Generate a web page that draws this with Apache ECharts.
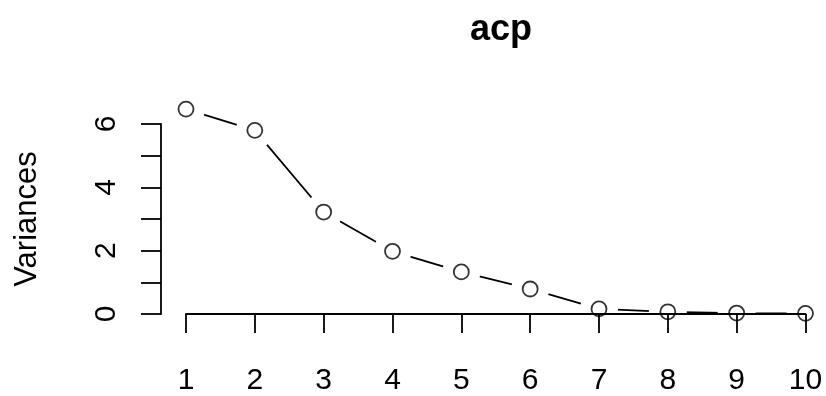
<!DOCTYPE html>
<html>
<head>
<meta charset="utf-8">
<script src="https://cdn.jsdelivr.net/npm/echarts@6/dist/echarts.min.js"></script>
<style>html,body{margin:0;padding:0;background:#fff;}#chart{width:826px;height:396px;}</style>
</head>
<body>
<div id="chart"></div>
<script>
const components = [1, 2, 3, 4, 5, 6, 7, 8, 9, 10];
const variances = [6.47, 5.80, 3.22, 1.98, 1.33, 0.79, 0.16, 0.07, 0.03, 0.02];
const yTickLabels = [0, 2, 4, 6];
const chartTitle = 'acp';
const yName = 'Variances';

const pts = components.map((c, i) => [c, variances[i]]);
const FONT = '"Liberation Sans", Arial, sans-serif';
const chart = echarts.init(document.getElementById('chart'));
chart.setOption({
  animation: false,
  backgroundColor: '#fff',
  title: {
    text: chartTitle,
    left: 496, top: 7, textAlign: 'center',
    textStyle: { fontFamily: FONT, fontSize: 36, fontWeight: 'bold', color: '#000' }
  },
  grid: { left: 186, right: 20.5, top: 124, bottom: 81 },
  xAxis: {
    type: 'value', min: 1, max: 10, interval: 1, offset: 8, z: 3,
    axisLine: { show: true, lineStyle: { color: '#000', width: 1.8 } },
    axisTick: { show: true, length: 19, lineStyle: { color: '#000', width: 1.8 } },
    axisLabel: { margin: 44, fontFamily: FONT, fontSize: 30, color: '#000' },
    splitLine: { show: false }
  },
  yAxis: {
    type: 'value', min: 0, max: 6, interval: 1, offset: 25, z: 3,
    name: yName, nameLocation: 'middle', nameRotate: 90, nameGap: 118,
    nameTextStyle: { fontFamily: FONT, fontSize: 31, color: '#000' },
    axisLine: { show: true, lineStyle: { color: '#000', width: 1.8 } },
    axisTick: { show: true, length: 20, lineStyle: { color: '#000', width: 1.8 } },
    axisLabel: {
      rotate: 90, margin: 39, fontFamily: FONT, fontSize: 30, color: '#000',
      formatter: v => (yTickLabels.indexOf(v) >= 0 ? String(v) : '')
    },
    splitLine: { show: false }
  },
  series: [
    {
      type: 'line', data: pts, clip: false, z: 2,
      lineStyle: { color: '#000', width: 1.8 },
      symbol: 'circle', symbolSize: 38, showSymbol: true,
      itemStyle: { color: '#fff', borderWidth: 0 },
      emphasis: { disabled: true }
    },
    {
      type: 'scatter', data: pts, clip: false, z: 4,
      symbol: 'circle', symbolSize: 15,
      itemStyle: { color: 'rgba(0,0,0,0)', borderColor: '#000', borderWidth: 1.8 },
      emphasis: { disabled: true }
    }
  ]
});
</script>
</body>
</html>
